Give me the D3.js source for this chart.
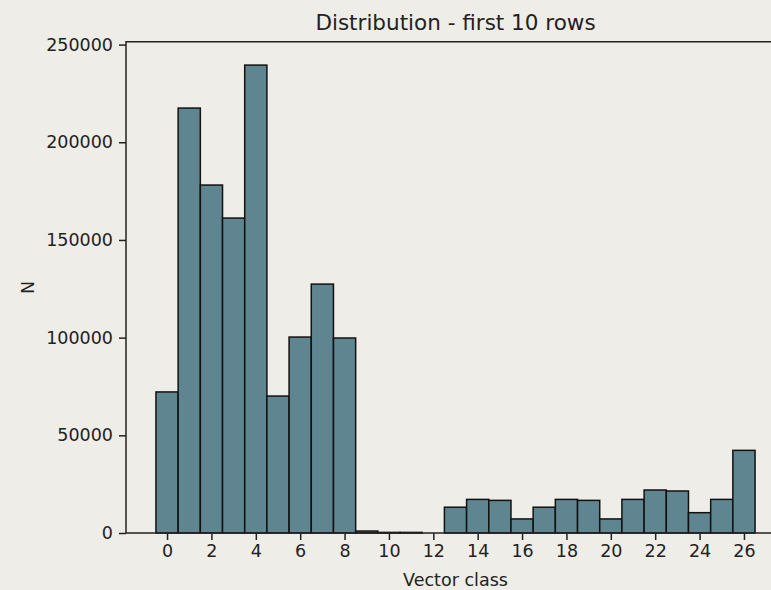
<!DOCTYPE html>
<html>
<head>
<meta charset="utf-8">
<script src="https://cdn.jsdelivr.net/npm/d3@7"></script>
<style>
  body { margin: 0; background: #efede7; }
  svg { display: block; font-family: "DejaVu Sans", sans-serif; }
</style>
</head>
<body>
<div id="chart"></div>
<script>
// values per vector class
var classes = d3.range(0, 27);
var counts = [72200, 217500, 178100, 161200, 239500, 70100, 100300, 127400, 99800,
              1000, 300, 300, 0, 13200, 17200, 16700, 7200, 13200, 17200, 16700,
              7200, 17200, 22000, 21500, 10400, 17200, 42300];
var xTicks = d3.range(0, 27, 2);
var yTicks = [0, 50000, 100000, 150000, 200000, 250000];

var width = 771, height = 590;
var plotLeft = 126, plotRight = 785, plotTop = 41.7, plotBottom = 533;

var svg = d3.select("#chart").append("svg")
    .attr("width", width)
    .attr("height", height);

svg.append("rect").attr("width", width).attr("height", height).attr("fill", "#efede7");

// matplotlib style margins: 5% each side
var x = d3.scaleLinear().domain([-1.85, 27.85]).range([plotLeft, plotRight]);
var y = d3.scaleLinear().domain([0, 239500 * 1.05]).range([plotBottom, plotTop]);

svg.selectAll("rect.bar")
    .data(classes)
    .enter()
    .append("rect")
    .attr("class", "bar")
    .attr("x", function (d) { return x(d - 0.5); })
    .attr("width", function (d) { return x(d + 0.5) - x(d - 0.5); })
    .attr("y", function (d) { return y(counts[d]); })
    .attr("height", function (d) { return y(0) - y(counts[d]); })
    .attr("fill", "#5f8590")
    .attr("stroke", "#111")
    .attr("stroke-width", 1.5);

// spines (right one is off the picture)
svg.append("path")
    .attr("d", "M" + plotRight + "," + plotTop + "H" + plotLeft + "V" + plotBottom + "H" + plotRight)
    .attr("fill", "none")
    .attr("stroke", "#222")
    .attr("stroke-width", 1.5);

var xAxis = svg.append("g")
    .attr("transform", "translate(0," + plotBottom + ")")
    .call(d3.axisBottom(x).tickValues(xTicks).tickSize(7).tickPadding(5).tickFormat(d3.format("d")));
var yAxis = svg.append("g")
    .attr("transform", "translate(" + plotLeft + ",0)")
    .call(d3.axisLeft(y).tickValues(yTicks).tickSize(7).tickPadding(6).tickFormat(d3.format("d")));

[xAxis, yAxis].forEach(function (g) {
    g.select(".domain").remove();
    g.selectAll("line").attr("stroke", "#222").attr("stroke-width", 1.5);
    g.selectAll("text").attr("fill", "#222").style("font-size", "17.5px").style("font-family", "DejaVu Sans");
});

svg.append("text")
    .attr("x", (plotLeft + plotRight) / 2)
    .attr("y", 30)
    .attr("text-anchor", "middle")
    .style("font-size", "21.5px")
    .attr("fill", "#222")
    .text("Distribution - first 10 rows");

svg.append("text")
    .attr("x", (plotLeft + plotRight) / 2)
    .attr("y", 586)
    .attr("text-anchor", "middle")
    .style("font-size", "17.5px")
    .attr("fill", "#222")
    .text("Vector class");

svg.append("text")
    .attr("transform", "translate(34," + ((plotTop + plotBottom) / 2) + ") rotate(-90)")
    .attr("text-anchor", "middle")
    .style("font-size", "17.5px")
    .attr("fill", "#222")
    .text("N");
</script>
</body>
</html>
